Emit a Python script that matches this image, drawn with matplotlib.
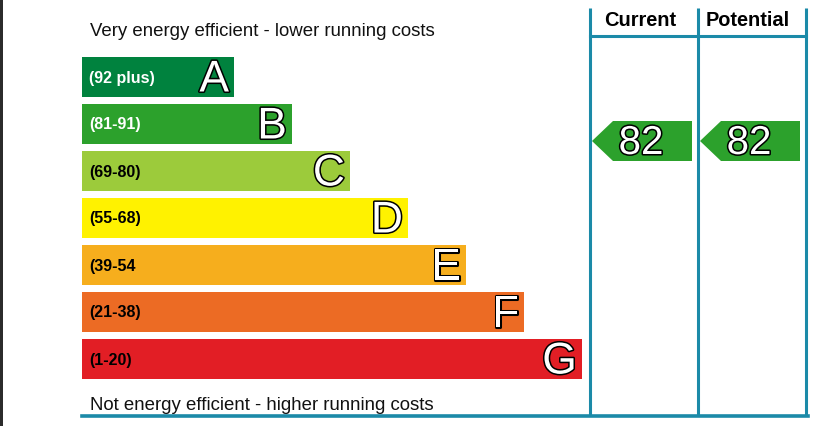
import matplotlib.pyplot as plt
import matplotlib.patheffects as pe
from matplotlib.patches import Rectangle, Polygon

plt.rcParams['font.family'] = ['Liberation Sans', 'DejaVu Sans']

# EPC bands
letters = ['A', 'B', 'C', 'D', 'E', 'F', 'G']
ranges = ['(92 plus)', '(81-91)', '(69-80)', '(55-68)', '(39-54', '(21-38)', '(1-20)']
colors = ['#00823e', '#2ca12c', '#9ccb3b', '#fff200', '#f6ae1d', '#ec6b24', '#e21e25']
range_text_colors = ['white', 'white', 'black', 'black', 'black', 'black', 'black']

current_score = 82
potential_score = 82
current_band = 'B'
potential_band = 'B'

top_label = 'Very energy efficient - lower running costs'
bottom_label = 'Not energy efficient - higher running costs'
line_color = '#1b8aa8'

W, H = 813, 426
fig = plt.figure(figsize=(W / 100, H / 100), dpi=100)
ax = fig.add_axes([0, 0, 1, 1])
ax.set_xlim(0, W)
ax.set_ylim(H, 0)
ax.axis('off')

# dark strip on the left edge
ax.add_patch(Rectangle((0, 0), 3, H, color='#2b2b2b', lw=0))

outline = [pe.withStroke(linewidth=2.2, foreground='black')]

bar_x = 82
bar_h = 40
for i, (letter, rng, col, tcol) in enumerate(zip(letters, ranges, colors, range_text_colors)):
    y0 = 57 + i * 47
    right = 234 + i * 58
    ax.add_patch(Rectangle((bar_x, y0), right - bar_x, bar_h, color=col, lw=0))
    ax.text(bar_x + 7, y0 + bar_h / 2 + 1, rng, color=tcol, fontsize=11.5,
            fontweight='bold', ha='left', va='center')
    ax.text(right - 5, y0 + bar_h / 2 + 3, letter, color='white', fontsize=32,
            ha='right', va='center', path_effects=outline)

ax.text(90, 32, top_label, fontsize=13.4, ha='left', va='center', color='#111111')
ax.text(90, 405, bottom_label, fontsize=13.4, ha='left', va='center', color='#111111')

# table lines
for x in [590, 698, 806]:
    ax.plot([x, x], [8, 416], color=line_color, lw=2.2, solid_capstyle='butt')
ax.plot([590, 806], [36, 36], color=line_color, lw=2.2)
ax.plot([82, 808], [416, 416], color=line_color, lw=2.6)

ax.text(640, 21, 'Current', fontsize=14.4, fontweight='bold', ha='center', va='center')
ax.text(748, 21, 'Potential', fontsize=14.4, fontweight='bold', ha='center', va='center')


def score_arrow(x_left, score, band):
    i = letters.index(band)
    col = colors[i]
    top, bot = 121, 161
    mid = (top + bot) / 2
    pts = [(x_left, mid), (x_left + 21, top), (x_left + 100, top),
           (x_left + 100, bot), (x_left + 21, bot)]
    ax.add_patch(Polygon(pts, closed=True, color=col, lw=0))
    ax.text(x_left + 49, mid + 2, str(score), color='white', fontsize=29,
            ha='center', va='center', path_effects=outline)


score_arrow(592, current_score, current_band)
score_arrow(700, potential_score, potential_band)

fig.savefig('out.png', dpi=100)
